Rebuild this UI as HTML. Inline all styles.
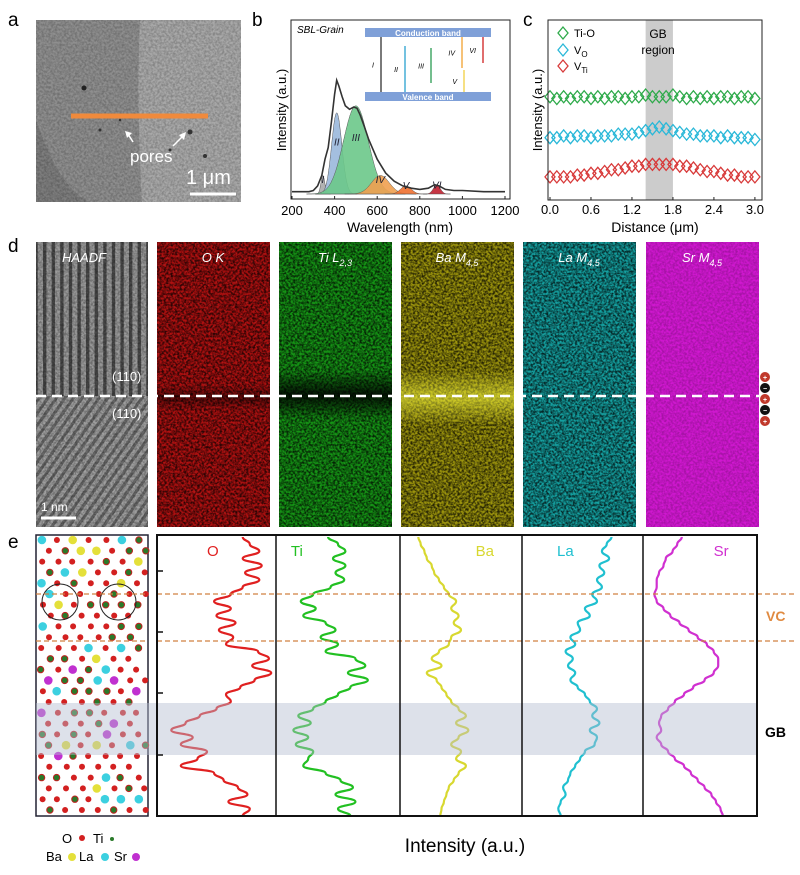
<!DOCTYPE html>
<html><head><meta charset="utf-8">
<style>
html,body{margin:0;padding:0;background:#fff;}
svg{display:block;font-family:"Liberation Sans",Arial,sans-serif;}
</style></head>
<body>
<svg id="fig" width="800" height="875" viewBox="0 0 800 875" xmlns="http://www.w3.org/2000/svg">
<defs>
  <filter id="speck" x="0" y="0" width="100%" height="100%">
    <feTurbulence type="fractalNoise" baseFrequency="0.45" numOctaves="2" seed="7"/>
    <feColorMatrix type="matrix" values="0 0 0 0 0  0 0 0 0 0  0 0 0 0 0  2.4 0 0 0 -0.75"/>
  </filter>
  <filter id="speckL" x="0" y="0" width="100%" height="100%">
    <feTurbulence type="fractalNoise" baseFrequency="0.5" numOctaves="2" seed="3"/>
    <feColorMatrix type="matrix" values="0 0 0 0 1  0 0 0 0 1  0 0 0 0 1  2.0 0 0 0 -1.2"/>
  </filter>
  <pattern id="vstripe" width="8.6" height="10" patternUnits="userSpaceOnUse">
    <rect width="8.6" height="10" fill="#9a9a9a"/>
    <rect x="0" width="3.4" height="10" fill="#4a4a4a"/>
  </pattern>
  <pattern id="dstripe" width="7" height="10" patternUnits="userSpaceOnUse" patternTransform="rotate(35)">
    <rect width="7" height="10" fill="#a0a0a0"/>
    <rect x="0" width="3" height="10" fill="#6a6a6a"/>
  </pattern>
  <linearGradient id="tiDark" x1="0" y1="0" x2="0" y2="1">
    <stop offset="0" stop-color="#000" stop-opacity="0"/>
    <stop offset="0.5" stop-color="#000" stop-opacity="0.85"/>
    <stop offset="1" stop-color="#000" stop-opacity="0"/>
  </linearGradient>
  <linearGradient id="baBright" x1="0" y1="0" x2="0" y2="1">
    <stop offset="0" stop-color="#ffff40" stop-opacity="0"/>
    <stop offset="0.5" stop-color="#ffff40" stop-opacity="0.55"/>
    <stop offset="1" stop-color="#ffff40" stop-opacity="0"/>
  </linearGradient>
</defs>

<!-- ===== panel a ===== -->
<text x="8" y="26" font-size="19">a</text>
<g>
  <rect x="36" y="20" width="205" height="182" fill="#8f8f8f"/>
  <path d="M140,20 Q136,100 142,202 L241,202 L241,20 Z" fill="#a9a9a9"/>
  <path d="M36,120 Q60,190 90,202 L36,202 Z" fill="#7e7e7e"/>
  <rect x="36" y="20" width="205" height="182" fill="#000" filter="url(#speck)" opacity="0.2"/>
  <circle cx="84" cy="88" r="2.5" fill="#222"/><circle cx="190" cy="132" r="2.5" fill="#333"/>
  <circle cx="205" cy="156" r="2" fill="#333"/><circle cx="100" cy="130" r="1.5" fill="#333"/>
  <circle cx="170" cy="150" r="1.5" fill="#333"/><circle cx="120" cy="120" r="1.3" fill="#333"/>
  <line x1="71" y1="116" x2="208" y2="116" stroke="#f08a3c" stroke-width="5"/>
  <line x1="133" y1="142" x2="128" y2="134" stroke="#fff" stroke-width="1.5"/>
  <path d="M125,131 L132,133 L127,138 Z" fill="#fff"/>
  <line x1="173" y1="146" x2="183" y2="136" stroke="#fff" stroke-width="1.5"/>
  <path d="M186,132 L179,135 L184,140 Z" fill="#fff"/>
  <text x="130" y="162" font-size="17" fill="#fff">pores</text>
  <text x="186" y="184" font-size="20" fill="#fff">1 μm</text>
  <line x1="190" y1="194" x2="236" y2="194" stroke="#fff" stroke-width="3"/>
</g>

<!-- ===== panel b ===== -->
<text x="252" y="26" font-size="19">b</text>
<g id="chartB"></g>

<!-- ===== panel c ===== -->
<text x="523" y="26" font-size="19">c</text>
<g id="chartC"></g>

<!-- ===== panel d ===== -->
<text x="8" y="252" font-size="19">d</text>
<g>
  <rect x="36" y="242" width="112" height="154" fill="url(#vstripe)"/>
  <rect x="36" y="396" width="112" height="131" fill="url(#dstripe)"/>
  <rect x="36" y="242" width="112" height="285" fill="#000" filter="url(#speck)" opacity="0.3"/>
  <text x="62" y="262" font-size="13" font-style="italic" fill="#fff">HAADF</text>
  <text x="112" y="381" font-size="13" fill="#fff">(110)</text>
  <text x="112" y="418" font-size="13" fill="#fff">(110)</text>
  <text x="41" y="511" font-size="12" fill="#fff">1 nm</text>
  <line x1="41" y1="518" x2="76" y2="518" stroke="#fff" stroke-width="3"/>
</g>
<g id="maps"></g>
<line x1="36" y1="396" x2="760" y2="396" stroke="#fff" stroke-width="2.5" stroke-dasharray="10,6"/>
<g font-size="7" text-anchor="middle" font-weight="bold">
  <circle cx="765" cy="377" r="5" fill="#c0392b"/><text x="765" y="380" fill="#fff">+</text>
  <circle cx="765" cy="388" r="5" fill="#111"/><text x="765" y="391" fill="#fff">−</text>
  <circle cx="765" cy="399" r="5" fill="#c0392b"/><text x="765" y="402" fill="#fff">+</text>
  <circle cx="765" cy="410" r="5" fill="#111"/><text x="765" y="413" fill="#fff">−</text>
  <circle cx="765" cy="421" r="5" fill="#c0392b"/><text x="765" y="424" fill="#fff">+</text>
</g>

<!-- ===== panel e ===== -->
<text x="8" y="548" font-size="19">e</text>
<g id="atoms"></g>
<g id="profiles"></g>
<g font-size="13">
  <text x="62" y="843">O</text><circle cx="82" cy="838" r="3" fill="#d32020"/>
  <text x="93" y="843">Ti</text><circle cx="112" cy="839" r="2" fill="#2a7a2a"/>
  <text x="46" y="861">Ba</text><circle cx="72" cy="857" r="4" fill="#e4e03a"/>
  <text x="79" y="861">La</text><circle cx="105" cy="857" r="4" fill="#3cd0e0"/>
  <text x="114" y="861">Sr</text><circle cx="136" cy="857" r="4" fill="#c030d0"/>
</g>
<text x="465" y="852" font-size="19" text-anchor="middle">Intensity (a.u.)</text>
<text x="766" y="621" font-size="14" fill="#e08a40" font-weight="bold">VC</text>
<text x="765" y="737" font-size="14" font-weight="bold">GB</text>
</svg>

<script>
const NS="http://www.w3.org/2000/svg";
function mk(tag,attrs,parent){const e=document.createElementNS(NS,tag);for(const k in attrs)e.setAttribute(k,attrs[k]);parent.appendChild(e);return e;}

/* ---------- panel b data ---------- */
const bTicks=[200,400,600,800,1000,1200];
const envWl=[200,280,300,320,340,355,370,385,400,410,420,435,450,470,490,505,520,540,560,600,640,680,720,760,800,840,870,890,920,960,1000,1100,1200];
const envI=[0.02,0.02,0.03,0.07,0.16,0.30,0.40,0.62,0.86,0.98,0.93,0.84,0.76,0.73,0.75,0.74,0.68,0.58,0.47,0.30,0.18,0.11,0.07,0.05,0.04,0.05,0.08,0.07,0.04,0.03,0.03,0.02,0.02];
const peakNames=["I","II","III","IV","V","VI"];
const peakCenters=[345,410,500,615,735,880];
const peakAmps=[0.16,0.70,0.76,0.16,0.07,0.08];
const peakSigmas=[9,24,58,42,25,16];
const peakColors=["#aaaaaa","#9ab8dc","#6cc88a","#f0a050","#f07030","#c02030"];

(function(){
  const g=document.getElementById('chartB');
  const L=291,R=510,T=20,B=199;
  const xs=w=>292+(w-200)*0.213;
  const ys=v=>194-v*116;
  for(let i=0;i<peakCenters.length;i++){
    let d="M"+xs(peakCenters[i]-4*peakSigmas[i])+","+ys(0);
    for(let w=peakCenters[i]-4*peakSigmas[i];w<=peakCenters[i]+4*peakSigmas[i];w+=2){
      const v=peakAmps[i]*Math.exp(-Math.pow(w-peakCenters[i],2)/(2*peakSigmas[i]*peakSigmas[i]));
      d+=" L"+xs(w).toFixed(1)+","+ys(v).toFixed(1);
    }
    d+=" Z";
    const p=mk('path',{d:d,fill:peakColors[i],stroke:"#555","stroke-width":0.5,"fill-opacity":0.9},g);
    
    
    const t=mk('text',{x:xs(peakCenters[i]),y:ys(peakAmps[i]*0.6),"font-size":10,"font-style":"italic","text-anchor":"middle",fill:"#223"},g);
    t.textContent=peakNames[i];
  }
  let d="";
  envWl.forEach((w,i)=>{d+=(i?" L":"M")+xs(w).toFixed(1)+","+ys(envI[i]).toFixed(1);});
  const env=mk('path',{d:d,fill:"none",stroke:"#333","stroke-width":1.6},g);
  
  
  mk('rect',{x:L,y:T,width:R-L,height:B-T,fill:"none",stroke:"#222","stroke-width":1},g);
  bTicks.forEach(t=>{
    mk('line',{x1:xs(t),x2:xs(t),y1:B,y2:B-3,stroke:"#222"},g);
    const tx=mk('text',{x:xs(t),y:B+16,"font-size":13,"text-anchor":"middle"},g);
    tx.textContent=t;
    
    
  });
  const xt=mk('text',{x:400,y:232,"font-size":14,"text-anchor":"middle"},g);xt.textContent="Wavelength (nm)";
  
  const yt=mk('text',{x:0,y:0,"font-size":13,"text-anchor":"middle",transform:"translate(286,110) rotate(-90)"},g);yt.textContent="Intensity (a.u.)";
  
  const st=mk('text',{x:297,y:33,"font-size":10,"font-style":"italic"},g);st.textContent="SBL-Grain";
  const ins=mk('g',{},g);
  
  mk('rect',{x:365,y:28,width:126,height:9,fill:"#7fa0d8"},ins);
  mk('rect',{x:365,y:92,width:126,height:9,fill:"#7fa0d8"},ins);
  let t1=mk('text',{x:428,y:36,"font-size":8,"text-anchor":"middle",fill:"#fff","font-weight":"bold"},ins);t1.textContent="Conduction band";
  let t2=mk('text',{x:428,y:100,"font-size":8,"text-anchor":"middle",fill:"#fff","font-weight":"bold"},ins);t2.textContent="Valence band";
  const arr=[[381,37,92,"#333","I"],[405,46,92,"#2aa0d0","II"],[431,48,83,"#2a9a50","III"],[462,37,68,"#f0a030","IV"],[464,70,92,"#f0d040","V"],[483,37,63,"#d02020","VI"]];
  arr.forEach(a=>{
    mk('line',{x1:a[0],x2:a[0],y1:a[1],y2:a[2],stroke:a[3],"stroke-width":1.3},ins);
    const l=mk('text',{x:a[0]-7,y:(a[1]+a[2])/2+3,"font-size":7,"font-style":"italic","text-anchor":"end"},ins);l.textContent=a[4];
  });
}());

/* ---------- panel c data ---------- */
const cDist=[0,0.1,0.2,0.3,0.4,0.5,0.6,0.7,0.8,0.9,1.0,1.1,1.2,1.3,1.4,1.5,1.6,1.7,1.8,1.9,2.0,2.1,2.2,2.3,2.4,2.5,2.6,2.7,2.8,2.9,3.0];
const cTicks=[0.0,0.6,1.2,1.8,2.4,3.0];
const tiO=[5.8,5.7,5.8,5.7,5.8,5.8,5.7,5.8,5.7,5.8,5.8,5.7,5.8,5.8,5.9,5.8,5.8,5.8,5.9,5.8,5.7,5.8,5.7,5.8,5.7,5.8,5.8,5.7,5.8,5.8,5.7];
const vO=[3.5,3.5,3.6,3.5,3.6,3.6,3.5,3.6,3.6,3.6,3.7,3.7,3.7,3.8,3.9,4.0,4.1,4.0,3.9,3.8,3.7,3.7,3.6,3.6,3.6,3.5,3.6,3.5,3.5,3.5,3.4];
const vTi=[1.3,1.3,1.3,1.3,1.4,1.4,1.5,1.5,1.6,1.7,1.7,1.8,1.9,1.9,2.0,2.0,2.0,2.0,2.0,1.9,1.9,1.8,1.7,1.6,1.6,1.5,1.4,1.4,1.3,1.3,1.3];
const cSeries=[["ti-o",tiO,"#2eaa4a"],["v-o",vO,"#2ab8d8"],["v-ti",vTi,"#d83a3a"]];
(function(){
  const g=document.getElementById('chartC');
  const L=548,R=762,T=20,B=200;
  const xs=v=>550+v*68.3;
  const ys=v=>200-v*17.8;
  const band=mk('rect',{x:xs(1.4),y:T,width:xs(1.8)-xs(1.4),height:B-T,fill:"#cccccc"},g);
  
  cSeries.forEach(s=>{
    const sg=mk('g',{},g);
    
    s[1].forEach((v,i)=>{
      const x=xs(cDist[i]),y=ys(v);
      const p=mk('path',{d:"M"+x+","+(y-6)+" L"+(x+5)+","+y+" L"+x+","+(y+6)+" L"+(x-5)+","+y+" Z",fill:"none",stroke:s[2],"stroke-width":1.3},sg);
      
    });
  });
  mk('rect',{x:L,y:T,width:R-L,height:B-T,fill:"none",stroke:"#222"},g);
  cTicks.forEach(t=>{
    mk('line',{x1:xs(t),x2:xs(t),y1:B,y2:B-3,stroke:"#222"},g);
    const tx=mk('text',{x:xs(t),y:B+14,"font-size":13,"text-anchor":"middle"},g);tx.textContent=t.toFixed(1);
    
  });
  const xt=mk('text',{x:655,y:232,"font-size":14,"text-anchor":"middle"},g);xt.textContent="Distance (μm)";
  
  const yt=mk('text',{x:0,y:0,"font-size":13,"text-anchor":"middle",transform:"translate(542,110) rotate(-90)"},g);yt.textContent="Intensity (a.u.)";
  
  const lg=[["Ti-O","#2eaa4a",33],["V","#2ab8d8",50,"O"],["V","#d83a3a",66,"Ti"]];
  lg.forEach(l=>{
    const x=563,y=l[2];
    mk('path',{d:"M"+x+","+(y-6)+" L"+(x+5)+","+y+" L"+x+","+(y+6)+" L"+(x-5)+","+y+" Z",fill:"none",stroke:l[1],"stroke-width":1.3},g);
    const t=mk('text',{x:574,y:y+4,"font-size":11},g);t.textContent=l[0];
    
    if(l[3]){const s=mk('tspan',{"font-size":8,dy:3},t);s.textContent=l[3];}
  });
  const g1=mk('text',{x:658,y:38,"font-size":12,"text-anchor":"middle"},g);g1.textContent="GB";
  const g2=mk('text',{x:658,y:54,"font-size":12,"text-anchor":"middle"},g);g2.textContent="region";
}());

/* ---------- panel d maps ---------- */
(function(){
  const g=document.getElementById('maps');
  const maps=[["O K","2,3","#b01010",157,"o"],["Ti L","2,3","#159515",279,"ti"],["Ba M","4,5","#9c940c",401,"ba"],["La M","4,5","#14a0a0",523,"la"],["Sr M","4,5","#d018d0",646,"sr"]];
  maps.forEach((m,i)=>{
    const sg=mk('g',{},g);
    
    mk('rect',{x:m[3],y:242,width:113,height:285,fill:m[2]},sg);
    mk('rect',{x:m[3],y:242,width:113,height:285,fill:"#000",filter:"url(#speck)",opacity:i==4?0.2:0.75},sg);
    if(i!=4) mk('rect',{x:m[3],y:242,width:113,height:285,fill:"#fff",filter:"url(#speckL)",opacity:0.15},sg);
    if(i==1) mk('rect',{x:m[3],y:370,width:113,height:50,fill:"url(#tiDark)"},sg);
    if(i==0) mk('rect',{x:m[3],y:385,width:113,height:25,fill:"url(#tiDark)",opacity:0.5},sg);
    if(i==2) mk('rect',{x:m[3],y:370,width:113,height:55,fill:"url(#baBright)"},sg);
    const t=mk('text',{x:m[3]+56,y:262,"font-size":13,"font-style":"italic",fill:"#fff","text-anchor":"middle"},sg);
    t.textContent=m[0];
    if(i>0){const s=mk('tspan',{"font-size":9,dy:4},t);s.textContent=m[1];}
  });
}());

/* ---------- panel e atoms ---------- */
(function(){
  const g=document.getElementById('atoms');
  mk('rect',{x:36,y:535,width:112,height:281,fill:"#fff",stroke:"#223","stroke-width":1.5},g);
  let seed=11;const rnd=()=>{seed=(seed*9301+49297)%233280;return seed/233280;};
  const cols=["#d32020","#d32020","#d32020","#d32020","#d32020","#d32020","#2a7a2a","#2a7a2a","#2a7a2a","#e4e03a","#3cd0e0","#c030d0"];
  for(let r=0;r<26;r++){
    for(let c=0;c<7;c++){
      const x=40+c*16+(r%2)*8+rnd()*3,y=540+r*10.8;
      if(x>146)continue;
      const k=Math.floor(rnd()*cols.length);
      const rad=k<6?3:(k<9?3.2:4.3);
      const a=mk('circle',{cx:x.toFixed(1),cy:y.toFixed(1),r:rad,fill:cols[k]},g);
      if(k>=6&&k<9)a.setAttribute('stroke','#c02020');
    }
  }
  mk('circle',{cx:60,cy:602,r:18,fill:"none",stroke:"#222","stroke-width":1},g);
  mk('circle',{cx:118,cy:602,r:18,fill:"none",stroke:"#222","stroke-width":1},g);
}());

/* ---------- panel e profiles ---------- */
const depthIdx=[0,1,2,3,4,5,6,7,8,9,10,11,12,13,14,15,16,17,18,19,20,21,22,23,24,25,26,27,28,29,30,31,32,33,34,35,36,37,38,39];
const profO=[0.72,0.78,0.86,0.72,0.88,0.74,0.86,0.72,0.62,0.48,0.62,0.50,0.66,0.52,0.64,0.58,0.85,0.94,0.80,0.96,0.82,0.70,0.58,0.62,0.50,0.36,0.24,0.12,0.30,0.20,0.42,0.34,0.20,0.48,0.56,0.68,0.76,0.60,0.78,0.72];
const profTi=[0.42,0.50,0.56,0.46,0.56,0.48,0.55,0.44,0.30,0.20,0.32,0.22,0.40,0.48,0.36,0.50,0.40,0.64,0.72,0.58,0.74,0.60,0.50,0.40,0.30,0.18,0.28,0.14,0.26,0.16,0.30,0.26,0.22,0.40,0.52,0.62,0.48,0.64,0.50,0.60];
const profBa=[0.15,0.17,0.20,0.22,0.26,0.28,0.32,0.36,0.40,0.46,0.42,0.48,0.44,0.50,0.42,0.40,0.32,0.26,0.34,0.22,0.30,0.34,0.38,0.42,0.48,0.54,0.46,0.56,0.48,0.42,0.50,0.46,0.54,0.48,0.44,0.40,0.38,0.36,0.34,0.33];
const profLa=[0.74,0.70,0.66,0.72,0.64,0.68,0.62,0.66,0.58,0.62,0.52,0.56,0.46,0.48,0.40,0.44,0.36,0.42,0.38,0.44,0.40,0.46,0.52,0.56,0.62,0.58,0.64,0.56,0.62,0.60,0.52,0.48,0.44,0.40,0.38,0.34,0.36,0.32,0.30,0.32];
const profSr=[0.34,0.30,0.26,0.20,0.18,0.14,0.12,0.12,0.10,0.12,0.18,0.24,0.32,0.40,0.48,0.56,0.62,0.66,0.66,0.62,0.54,0.44,0.36,0.28,0.22,0.16,0.14,0.16,0.12,0.16,0.22,0.28,0.36,0.42,0.48,0.54,0.60,0.64,0.68,0.70];
const profNames=["O","Ti","Ba","La","Sr"];
(function(){
  const g=document.getElementById('profiles');
  const T=537,B=816;
  const bounds=[157,276,400,522,643,757];
  const colors=["#e02020","#22c022","#d8d830","#20c0d0","#d030d0"];
  const data=[profO,profTi,profBa,profLa,profSr];
  const ys=i=>T+i*(B-T)/(depthIdx.length-1);
  mk('rect',{x:157,y:535,width:600,height:281,fill:"#fff"},g);
  data.forEach((arr,p)=>{
    const x0=bounds[p],w=bounds[p+1]-x0;
    const xs=v=>x0+v*w;
    const pts=arr.map((v,i)=>[xs(v),ys(depthIdx[i])]);
    let d="M"+pts[0][0].toFixed(1)+","+pts[0][1].toFixed(1);
    for(let i=1;i<pts.length;i++){
      const p0=pts[i-1],p1=pts[i];const my=(p0[1]+p1[1])/2;
      d+=" C"+p0[0].toFixed(1)+","+my.toFixed(1)+" "+p1[0].toFixed(1)+","+my.toFixed(1)+" "+p1[0].toFixed(1)+","+p1[1].toFixed(1);
    }
    const path=mk('path',{d:d,fill:"none",stroke:colors[p],"stroke-width":2.2},g);
    
    
    const lab=mk('text',{x:x0+(p==0?0.42:p==1?0.12:0.62)*w+(p==3?-40:0),y:556,"font-size":15,fill:colors[p]},g);
    lab.textContent=profNames[p];
    
    
  });
  const gb=mk('rect',{x:36,y:703,width:721,height:52,fill:"#b4bcd0","fill-opacity":0.45},g);
  
  [594,641].forEach(y=>{
    const l=mk('line',{x1:157,x2:795,y1:y,y2:y,stroke:"#d08040","stroke-width":1.3,"stroke-dasharray":"5,3"},g);
    
  });
  mk('line',{x1:36,x2:148,y1:594,y2:594,stroke:"#d08040","stroke-width":1.3,"stroke-dasharray":"5,3"},g);
  mk('line',{x1:36,x2:148,y1:641,y2:641,stroke:"#d08040","stroke-width":1.3,"stroke-dasharray":"5,3"},g);
  mk('rect',{x:157,y:535,width:600,height:281,fill:"none",stroke:"#111","stroke-width":2},g);
  bounds.slice(1,5).forEach(x=>mk('line',{x1:x,x2:x,y1:535,y2:816,stroke:"#111","stroke-width":1.5},g));
  [571,632,693,755].forEach(y=>mk('line',{x1:157,x2:163,y1:y,y2:y,stroke:"#111","stroke-width":1.5},g));
}());
</script>
</body></html>
